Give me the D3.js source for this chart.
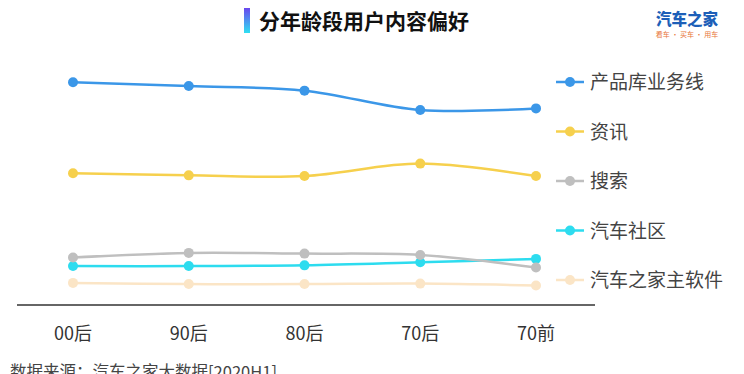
<!DOCTYPE html>
<html>
<head>
<meta charset="utf-8">
<script src="https://cdn.jsdelivr.net/npm/d3@7"></script>
<style>
  body { margin: 0; background: #fff; font-family: "Noto Sans CJK SC", "Noto Sans", sans-serif; }
  svg { display: block; }
</style>
</head>
<body>
<div id="chart"></div>
<script>
var width = 744, height = 374;

// data (relative index, no axis shown)
var ages = ["00后", "90后", "80后", "70后", "70前"];
var seriesNames = ["产品库业务线", "资讯", "搜索", "汽车社区", "汽车之家主软件"];
var seriesColors = ["#3b97e8", "#f6d04d", "#bfbfbf", "#2ddcef", "#fbe5c6"];
var productLine = [92.4, 90.8, 88.9, 80.8, 81.5];
var news = [54.5, 53.6, 53.3, 58.5, 53.3];
var search = [19.4, 21.3, 21.0, 20.4, 15.2];
var community = [15.8, 15.8, 16.1, 17.4, 18.8];
var mainApp = [8.8, 8.3, 8.3, 8.5, 7.7];
var allSeries = [productLine, news, search, community, mainApp];

var svg = d3.select("#chart").append("svg")
    .attr("width", width)
    .attr("height", height);

// title with gradient bar
var defs = svg.append("defs");
var grad = defs.append("linearGradient")
    .attr("id", "titlebar")
    .attr("x1", 0).attr("y1", 0).attr("x2", 0).attr("y2", 1);
grad.append("stop").attr("offset", "0%").attr("stop-color", "#6a47ee");
grad.append("stop").attr("offset", "100%").attr("stop-color", "#2fe0f2");

svg.append("rect")
    .attr("x", 244).attr("y", 8)
    .attr("width", 6).attr("height", 25)
    .attr("fill", "url(#titlebar)");

svg.append("text")
    .attr("x", 259).attr("y", 29)
    .attr("font-size", 21)
    .attr("font-weight", "bold")
    .attr("fill", "#111")
    .text("分年龄段用户内容偏好");

// logo
svg.append("text")
    .attr("x", 687).attr("y", 25)
    .attr("text-anchor", "middle")
    .attr("font-size", 15.5)
    .attr("font-weight", "900")
    .attr("fill", "#1d5fb8")
    .text("汽车之家");
svg.append("text")
    .attr("x", 687).attr("y", 37)
    .attr("text-anchor", "middle")
    .attr("font-size", 7)
    .attr("fill", "#e8763a")
    .text("看车 · 买车 · 用车");

var x = d3.scalePoint()
    .domain(ages)
    .range([73, 536]);

var y = d3.scaleLinear()
    .domain([0, 100])
    .range([304, 64]);

// axis baseline
svg.append("line")
    .attr("x1", 17).attr("x2", 595)
    .attr("y1", 305).attr("y2", 305)
    .attr("stroke", "#666")
    .attr("stroke-width", 2);

svg.selectAll(".xlabel")
    .data(ages).enter()
    .append("text")
    .attr("class", "xlabel")
    .attr("x", function(d) { return x(d); })
    .attr("y", 340)
    .attr("text-anchor", "middle")
    .attr("font-size", 18)
    .attr("fill", "#333")
    .text(function(d) { return d; });

var line = d3.line()
    .x(function(d, i) { return x(ages[i]); })
    .y(function(d) { return y(d); })
    .curve(d3.curveCatmullRom.alpha(0.5));

// draw back to front so top series sit above
for (var s = allSeries.length - 1; s >= 0; s--) {
  var g = svg.append("g");
  g.append("path")
    .datum(allSeries[s])
    .attr("fill", "none")
    .attr("stroke", seriesColors[s])
    .attr("stroke-width", 2.5)
    .attr("d", line);
  g.selectAll("circle")
    .data(allSeries[s]).enter()
    .append("circle")
    .attr("cx", function(d, i) { return x(ages[i]); })
    .attr("cy", function(d) { return y(d); })
    .attr("r", 5)
    .attr("fill", seriesColors[s]);
}

// legend
var legend = svg.selectAll(".legend")
    .data(seriesNames).enter()
    .append("g")
    .attr("class", "legend")
    .attr("transform", function(d, i) { return "translate(556," + (82 + i * 49.5) + ")"; });

legend.append("line")
    .attr("x1", 0).attr("x2", 28)
    .attr("stroke", function(d, i) { return seriesColors[i]; })
    .attr("stroke-width", 2.5);
legend.append("circle")
    .attr("cx", 14).attr("r", 5)
    .attr("fill", function(d, i) { return seriesColors[i]; });
legend.append("text")
    .attr("x", 34).attr("y", 7)
    .attr("font-size", 19)
    .attr("fill", "#444")
    .text(function(d) { return d; });

svg.append("text")
    .attr("x", 10).attr("y", 378)
    .attr("font-size", 16.5)
    .attr("fill", "#444")
    .text("数据来源：汽车之家大数据[2020H1]");
</script>
</body>
</html>
